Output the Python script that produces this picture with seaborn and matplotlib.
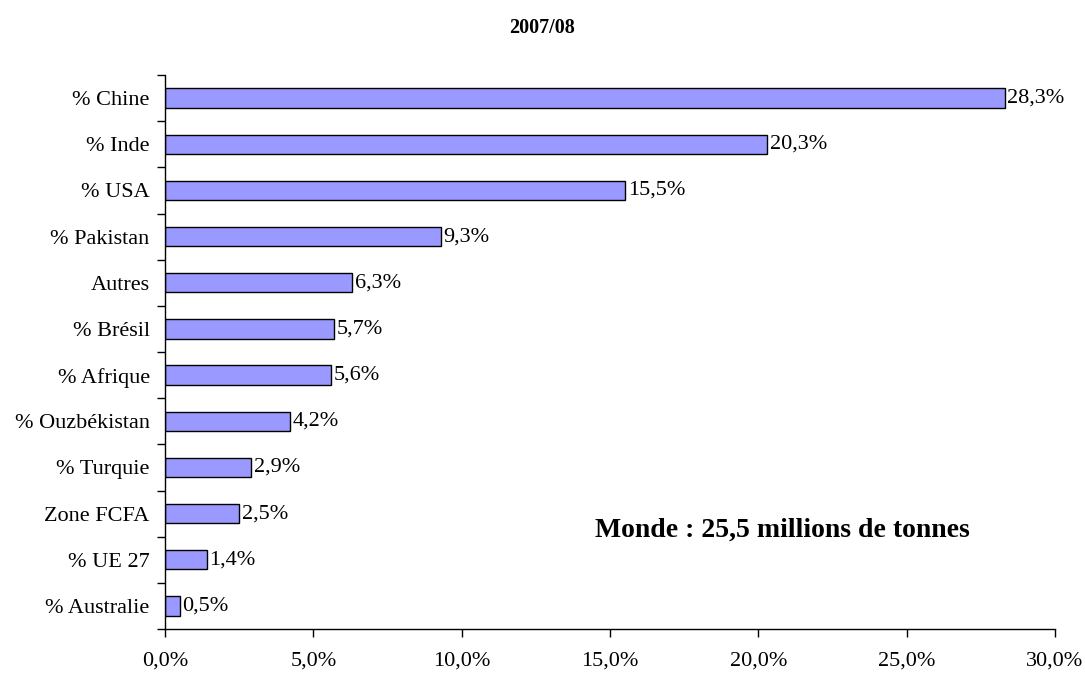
import matplotlib
matplotlib.use("Agg")
import matplotlib.pyplot as plt
import seaborn as sns
import pandas as pd
from matplotlib.ticker import FixedLocator

categories = ["% Chine", "% Inde", "% USA", "% Pakistan", "Autres", "% Brésil",
              "% Afrique", "% Ouzbékistan", "% Turquie", "Zone FCFA", "% UE 27", "% Australie"]
values = [28.3, 20.3, 15.5, 9.3, 6.3, 5.7, 5.6, 4.2, 2.9, 2.5, 1.4, 0.5]
xticks = [0, 5, 10, 15, 20, 25, 30]
title = "2007/08"
note = "Monde : 25,5 millions de tonnes"

sns.set_theme(style="white")
plt.rcParams['font.family'] = ['Liberation Serif', 'DejaVu Serif']
plt.rcParams['text.color'] = 'black'
plt.rcParams['xtick.color'] = 'black'
plt.rcParams['ytick.color'] = 'black'
plt.rcParams['xtick.labelcolor'] = 'black'
plt.rcParams['ytick.labelcolor'] = 'black'

df = pd.DataFrame({"cat": categories, "val": values})

fig = plt.figure(figsize=(10.85, 6.75), dpi=100)
ax = fig.add_axes([165/1085, 1-629/675, (1055-165)/1085, (629-75)/675])

sns.barplot(data=df, x="val", y="cat", orient="h", color="#9999FF",
            edgecolor="black", linewidth=1, width=0.42, saturation=1, ax=ax)

fs = 16
ax.set_xlim(0, 30)
ax.set_ylim(len(categories) - 0.5, -0.5)
ax.set_xticks(xticks)
ax.set_xticklabels([f"{t:.1f}%".replace(".", ",") for t in xticks], fontsize=fs)
ax.set_xlabel("")
ax.set_ylabel("")
ax.tick_params(axis="y", which="major", length=0, pad=11, labelsize=fs)
ax.yaxis.set_minor_locator(FixedLocator([i - 0.5 for i in range(len(categories) + 1)]))
ax.tick_params(axis="y", which="minor", length=6, width=1, color="black", left=True)
ax.tick_params(axis="x", which="major", length=6, width=1, color="black", bottom=True, pad=10)

for s in ["top", "right"]:
    ax.spines[s].set_visible(False)
for s in ["left", "bottom"]:
    ax.spines[s].set_color("black")
    ax.spines[s].set_linewidth(1)

ax.bar_label(ax.containers[0], labels=[f"{v:.1f}%".replace(".", ",") for v in values],
             padding=2, fontsize=fs, color="black")

fig.text(0.5, 1 - 28/675, title, ha="center", va="center", fontsize=14.5, fontweight="bold")
ax.text(0.694, 0.179, note, transform=ax.transAxes, ha="center", va="center",
        fontsize=20, fontweight="bold")

fig.savefig("out.png", dpi=100, facecolor="white")
